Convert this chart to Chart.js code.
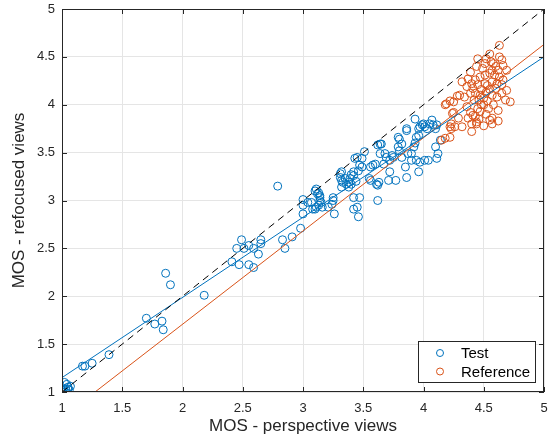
<!DOCTYPE html>
<html>
<head>
<meta charset="utf-8">
<script src="https://cdn.jsdelivr.net/npm/chart.js@4.4.1/dist/chart.umd.min.js"></script>
<style>
  html, body { margin: 0; padding: 0; background: #fff; }
  #wrap { width: 556px; height: 438px; }
</style>
</head>
<body>
<div id="wrap"><canvas id="mos-chart" width="556" height="438"></canvas></div>
<script>
// ========== DATA ========== //
const testX = [1.02, 1.03, 1.05, 1.04, 1.06, 1.07, 1.02, 1.05, 1.01,
  1.17, 1.19, 1.25, 1.39,
  1.70, 1.77, 1.83, 1.84, 1.86, 1.90, 2.18,
  2.41, 2.45, 2.49, 2.47, 2.51, 2.55, 2.59, 2.55, 2.59, 2.63, 2.65, 2.65, 2.83, 2.85, 2.91, 2.98, 2.79,
  3.00, 3.00, 3.00, 3.04, 3.07,
  3.08, 3.10, 3.11, 3.13, 3.14, 3.14, 3.15, 3.16, 3.10, 3.11, 3.13, 3.14, 3.12,
  3.21, 3.24, 3.25, 3.26, 3.25,
  3.31, 3.32, 3.32, 3.33, 3.35, 3.36, 3.38, 3.39, 3.40, 3.42, 3.38, 3.40, 3.44, 3.31, 3.32, 3.42, 3.46,
  3.43, 3.47, 3.49, 3.51, 3.49, 3.45,
  3.42, 3.42, 3.45, 3.46, 3.47,
  3.55, 3.56, 3.58, 3.60, 3.62, 3.64, 3.65, 3.64, 3.68, 3.67, 3.69, 3.72, 3.74, 3.75,
  3.61, 3.62, 3.62, 3.63, 3.56,
  3.71, 3.72, 3.77, 3.79, 3.80, 3.79, 3.80, 3.82, 3.82, 3.85, 3.86, 3.87, 3.86, 3.86,
  3.90, 3.90, 3.92, 3.93, 3.94, 3.96, 3.96, 3.97, 3.99, 4.00, 4.01, 4.03, 3.94, 3.97, 3.96, 4.01, 4.04,
  4.05, 4.07, 4.08, 4.10, 4.11, 4.12, 4.11, 4.10, 3.93, 4.14];
const testY = [1.00, 1.03, 1.05, 1.08, 1.02, 1.06, 1.10, 1.03, 1.04,
  1.27, 1.27, 1.30, 1.39,
  1.77, 1.71, 1.74, 1.65, 2.24, 2.12, 2.01,
  2.36, 2.50, 2.59, 2.33, 2.50, 2.53, 2.50, 2.33, 2.30, 2.44, 2.59, 2.55, 2.59, 2.50, 2.62, 2.71, 3.15,
  3.01, 2.95, 2.86, 2.98, 2.98,
  2.91, 2.91, 2.93, 2.95, 3.00, 3.03, 2.98, 2.93, 3.10, 3.12, 3.08, 3.05, 3.07,
  2.93, 2.96, 3.00, 2.86, 3.03,
  3.24, 3.30, 3.14, 3.19, 3.23, 3.17, 3.19, 3.23, 3.27, 3.30, 3.14, 3.17, 3.20, 3.28, 3.21, 3.26, 3.31,
  3.44, 3.37, 3.35, 3.51, 3.44, 3.45,
  3.03, 2.91, 2.93, 2.83, 3.03,
  3.23, 3.35, 3.37, 3.38, 3.58, 3.59, 3.59, 3.49, 3.49, 3.38, 3.45, 3.42, 3.47, 3.45,
  3.17, 3.16, 3.00, 3.19, 3.21,
  3.21, 3.30, 3.21, 3.66, 3.64, 3.56, 3.52, 3.59, 3.45, 3.35, 3.24, 3.49, 3.73, 3.75,
  3.42, 3.49, 3.56, 3.60, 3.66, 3.68, 3.75, 3.77, 3.79, 3.80, 3.77, 3.75, 3.42, 3.40, 3.30, 3.42, 3.42,
  3.80, 3.84, 3.79, 3.75, 3.79, 3.49, 3.44, 3.56, 3.85, 3.63];

const refX = [4.63, 4.55, 4.45, 4.52, 4.63, 4.65, 4.66, 4.51, 4.58, 4.44, 4.49, 4.57, 4.62, 4.69,
  4.32, 4.37, 4.40, 4.43, 4.47, 4.51, 4.55, 4.59, 4.63, 4.66, 4.36, 4.41, 4.45, 4.51, 4.57, 4.61, 4.65,
  4.19, 4.25, 4.30, 4.34, 4.39, 4.43, 4.47, 4.52, 4.57, 4.61, 4.65, 4.69, 4.72, 4.68,
  4.25, 4.29, 4.36, 4.39, 4.41, 4.45, 4.50, 4.54, 4.58, 4.62, 4.37, 4.40, 4.44,
  4.23, 4.23, 4.32, 4.40, 4.57, 4.57, 4.62,
  4.15, 4.18, 4.26, 4.18, 4.22, 4.28, 4.24, 4.22, 4.22, 4.44, 4.55, 4.39,
  4.46, 4.48, 4.50, 4.53, 4.47, 4.52, 4.55, 4.48, 4.60, 4.42, 4.56, 4.60, 4.43, 4.46, 4.50, 4.53];
const refY = [4.62, 4.53, 4.48, 4.48, 4.50, 4.47, 4.41, 4.43, 4.43, 4.40, 4.38, 4.36, 4.36, 4.36,
  4.24, 4.27, 4.22, 4.26, 4.29, 4.31, 4.33, 4.31, 4.29, 4.26, 4.19, 4.17, 4.21, 4.22, 4.24, 4.22, 4.21,
  4.01, 4.03, 4.10, 4.08, 4.12, 4.12, 4.10, 4.13, 4.10, 4.08, 4.12, 4.15, 4.03, 4.05,
  3.92, 3.86, 3.98, 3.92, 3.89, 3.96, 4.00, 3.96, 4.00, 3.94, 3.86, 3.80, 3.82,
  3.80, 3.75, 3.77, 3.72, 3.86, 3.80, 3.83,
  3.63, 3.65, 3.77, 4.00, 4.04, 4.09, 3.91, 3.77, 3.66, 3.80, 3.84, 4.34,
  4.05, 4.00, 4.07, 4.04, 3.93, 3.90, 4.16, 4.16, 4.17, 4.05, 4.45, 4.40, 3.88, 3.85, 3.78, 4.20];

// fitted lines and the identity line (end points)
const testFitX = [1, 5];
const testFitY = [1.15, 4.50];
const refFitX = [1.274, 5];
const refFitY = [1, 4.63];
const diagX = [1, 5];
const diagY = [1, 5];

const tickValues = [1, 1.5, 2, 2.5, 3, 3.5, 4, 4.5, 5];
const legendLabels = ["Test", "Reference"];

const BLUE = "#0072BD";
const ORANGE = "#D95319";
const INK = "#262626";
const FONT = "'Liberation Sans', Arial, Helvetica, sans-serif";

const toPoints = (xs, ys) => xs.map((x, i) => ({ x, y: ys[i] }));

// ========== PLUGINS ========== //
// MATLAB-like box with inward ticks on all four sides + legend box
const boxPlugin = {
  id: "matlabBox",
  afterDatasetsDraw(chart) {
    const { ctx, chartArea: a, scales } = chart;
    ctx.save();
    ctx.strokeStyle = INK;
    ctx.lineWidth = 1;
    ctx.strokeRect(a.left + 0.5, a.top + 0.5, a.right - a.left - 1, a.bottom - a.top - 1);
    const len = 5;
    ctx.beginPath();
    tickValues.forEach(v => {
      const px = Math.round(scales.x.getPixelForValue(v)) + 0.5;
      ctx.moveTo(px, a.bottom); ctx.lineTo(px, a.bottom - len);
      ctx.moveTo(px, a.top); ctx.lineTo(px, a.top + len);
      const py = Math.round(scales.y.getPixelForValue(v)) + 0.5;
      ctx.moveTo(a.left, py); ctx.lineTo(a.left + len, py);
      ctx.moveTo(a.right, py); ctx.lineTo(a.right - len, py);
    });
    ctx.stroke();

    // legend
    const w = 118, h = 42;
    const lx = a.right - 8 - w, ly = a.bottom - 9 - h;
    ctx.fillStyle = "#fff";
    ctx.fillRect(lx, ly, w, h);
    ctx.strokeStyle = INK;
    ctx.strokeRect(lx + 0.5, ly + 0.5, w - 1, h - 1);
    const colors = [BLUE, ORANGE];
    ctx.font = "15px " + FONT;
    ctx.textBaseline = "middle";
    legendLabels.forEach((label, i) => {
      const cy = ly + 12 + i * 18.5;
      ctx.beginPath();
      ctx.strokeStyle = colors[i];
      ctx.arc(lx + 22, cy, 3.5, 0, Math.PI * 2);
      ctx.stroke();
      ctx.fillStyle = "#000";
      ctx.fillText(label, lx + 43, cy + 1);
    });
    ctx.restore();
  }
};

// ========== CHART ========== //
function axis(titleText, isX) {
  return {
    type: "linear",
    min: 1,
    max: 5,
    afterBuildTicks: s => { s.ticks = tickValues.map(v => ({ value: v })); },
    afterFit: s => {
      if (isX) { s.height = 46; s.paddingLeft = 0; s.paddingRight = 0; }
      else { s.width = 62; s.paddingTop = 0; s.paddingBottom = 0; }
    },
    grid: { color: "#e5e5e5", drawTicks: false },
    border: { display: false },
    ticks: {
      color: INK,
      font: { family: FONT, size: 13 },
      padding: isX ? 9 : 7,
      callback: v => String(v)
    },
    title: {
      display: true,
      text: titleText,
      color: INK,
      font: { family: FONT, size: 17 },
      padding: isX ? { top: 0, bottom: 1 } : { top: 9, bottom: 0 }
    }
  };
}

const ctx = document.getElementById("mos-chart").getContext("2d");
new Chart(ctx, {
  type: "scatter",
  data: {
    datasets: [
      { label: "diag", data: toPoints(diagX, diagY), showLine: true, pointRadius: 0,
        borderColor: "#000", borderWidth: 1, borderDash: [7, 5], order: 0 },
      { label: "testFit", data: toPoints(testFitX, testFitY), showLine: true, pointRadius: 0,
        borderColor: BLUE, borderWidth: 1, order: 1 },
      { label: "refFit", data: toPoints(refFitX, refFitY), showLine: true, pointRadius: 0,
        borderColor: ORANGE, borderWidth: 1, order: 2 },
      { label: "Reference", data: toPoints(refX, refY), pointRadius: 4, pointBorderWidth: 1,
        borderColor: ORANGE, backgroundColor: "rgba(0,0,0,0)", order: 3 },
      { label: "Test", data: toPoints(testX, testY), pointRadius: 4, pointBorderWidth: 1,
        borderColor: BLUE, backgroundColor: "rgba(0,0,0,0)", order: 4 }
    ]
  },
  options: {
    responsive: false,
    animation: false,
    layout: { padding: { top: 9, right: 12, left: 0, bottom: 0 } },
    plugins: { legend: { display: false }, tooltip: { enabled: false } },
    scales: {
      x: axis("MOS - perspective views", true),
      y: axis("MOS - refocused views", false)
    }
  },
  plugins: [boxPlugin]
});
</script>
</body>
</html>
